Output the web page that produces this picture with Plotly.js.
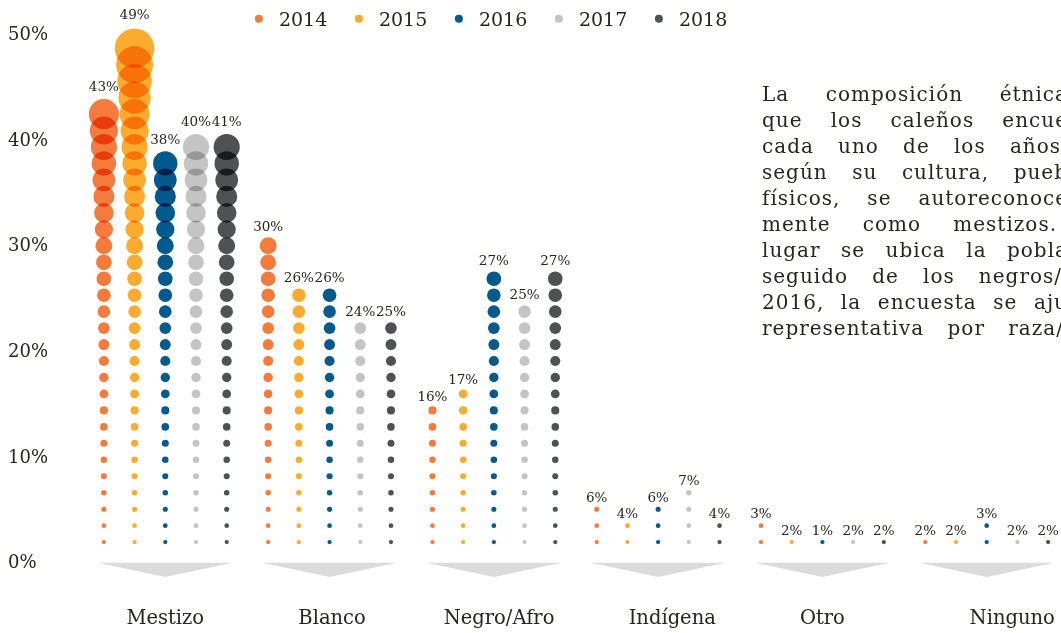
<!DOCTYPE html>
<html><head><meta charset="utf-8">
<script src="https://cdn.plot.ly/plotly-3.0.1.min.js"></script>
<style>
html,body{margin:0;padding:0;background:#fff;}
#chart{width:1061px;height:633px;}
.js-plotly-plot .scatterlayer path.point{mix-blend-mode:multiply;}
.js-plotly-plot .annotation-text{letter-spacing:1px;}
</style></head><body><div id="chart"></div>
<script>
// ---- data ----
const categories = ['Mestizo','Blanco','Negro/Afro','Indígena','Otro','Ninguno'];
const years = ['2014','2015','2016','2017','2018'];
// percentage shown above each column (by category)
const pct2014 = [43,30,16,6,3,2];
const pct2015 = [49,26,17,4,2,2];
const pct2016 = [38,26,27,6,1,3];
const pct2017 = [40,24,25,7,2,2];
const pct2018 = [41,25,27,4,2,2];
// number of dots stacked in each column (by category)
const dots2014 = [27,19,9,3,2,1];
const dots2015 = [31,16,10,2,1,1];
const dots2016 = [24,16,17,3,1,2];
const dots2017 = [25,14,15,4,1,1];
const dots2018 = [25,14,17,2,1,1];
const yTickVals = [0,10,20,30,40,50];
const yTickText = ['0%','10%','20%','30%','40%','50%'];
const paragraphLines = [
  'La composición étnica',
  'que los caleños encue',
  'cada uno de los años',
  'según su cultura, pueb',
  'físicos, se autoreconoce',
  'mente como mestizos.',
  'lugar se ubica la pobla',
  'seguido de los negros/',
  '2016, la encuesta se aju',
  'representativa por raza/'
];

// ---- styling ----
const colors = ['#f47b3b','#fbab2d','#005a8e','#c4c4c4','#4f5254'];
const pctByYear = [pct2014,pct2015,pct2016,pct2017,pct2018];
const dotsByYear = [dots2014,dots2015,dots2016,dots2017,dots2018];
const GROUP = 5.35;      // group spacing in column units
const DOT_BASE = 1.86;   // value of the first dot (%)
const DOT_STEP = 1.56;   // value step between dots (%)
const txtColor = '#26261c';
const FONT = 'DejaVu Serif';
const PARA_LEFT = 760;
const lineRight = [1066,1066,1059,1066,1066,1055,1066,1060,1066,1062];
const labelShift = [0,0.08,0.17,0.46,0,0.83];  // category label nudges (column units)

function dotSize(v){ return 3.8 + 0.26*v + 0.0002*v*v*v; }
function groupCenter(g){ return g*GROUP; }

const traces = [];
years.forEach((yr, j) => {
  const xs=[], ys=[], sz=[], tx=[];
  categories.forEach((c, g) => {
    const n = dotsByYear[j][g];
    for(let k=0;k<n;k++){
      const v = DOT_BASE + DOT_STEP*k;
      xs.push(groupCenter(g) + (j-2));
      ys.push(v);
      sz.push(dotSize(v));
      tx.push(k===n-1 ? pctByYear[j][g] + '%' : '');
    }
  });
  traces.push({
    type:'scatter', mode:'markers+text', x:xs, y:ys, text:tx,
    textposition:'top center', cliponaxis:false,
    textfont:{family:FONT, size:13.5, color:txtColor},
    marker:{color:colors[j], size:sz, line:{width:0}, opacity:1},
    name:yr, showlegend:false, hoverinfo:'skip'
  });
});
// legend entries
years.forEach((yr,j)=>{
  traces.push({type:'scatter', mode:'markers', x:[null], y:[null], name:yr,
    marker:{color:colors[j], size:8}, showlegend:true, hoverinfo:'skip'});
});

const shapes = categories.map((c,g)=>{
  const cx = groupCenter(g);
  return {type:'path', xref:'x', yref:'y',
    path:`M ${cx-2.2} -0.1 L ${cx+2.2} -0.1 L ${cx} -1.45 Z`,
    fillcolor:'#dadbda', line:{width:0}, layer:'below'};
});

const layout = {
  width:1061, height:633,
  margin:{l:5, r:0, t:10, b:30},
  paper_bgcolor:'#ffffff', plot_bgcolor:'#ffffff',
  font:{family:FONT, color:txtColor},
  showlegend:true,
  legend:{orientation:'h', x:0.2215, y:1.019, xanchor:'left', yanchor:'top',
    entrywidth:55, entrywidthmode:'pixels', itemwidth:30,
    font:{family:FONT, size:19, color:txtColor}, bgcolor:'rgba(0,0,0,0)', traceorder:'normal'},
  xaxis:{range:[-5.22,29.17], showgrid:false, zeroline:false, showline:false,
    tickvals:categories.map((c,g)=>groupCenter(g)+labelShift[g]), ticktext:categories, ticks:'',
    tickfont:{family:FONT, size:19.5, color:txtColor}, fixedrange:true},
  yaxis:{range:[-3.91,52.19], tickvals:yTickVals, ticktext:yTickText, showgrid:false,
    zeroline:false, showline:false, ticks:'', ticklabelposition:'inside',
    tickfont:{family:FONT, size:18, color:txtColor}, fixedrange:true},
  shapes:shapes,
  annotations:[{xref:'paper', yref:'paper', x:(PARA_LEFT-5)/1056, y:0.884, xanchor:'left', yanchor:'top',
    align:'left', showarrow:false, text:paragraphLines.join('<br>'),
    font:{family:FONT, size:20, color:txtColor}}]
};

const gd = document.getElementById('chart');
Plotly.newPlot(gd, traces, layout, {displayModeBar:false, staticPlot:true}).then(()=>{
  // justify paragraph lines like the original text block
  const lines = gd.querySelectorAll('.annotation-text tspan.line');
  lines.forEach((t,i)=>{
    const len = t.getComputedTextLength();
    const spaces = (t.textContent.match(/ /g)||[]).length;
    const target = lineRight[i] - PARA_LEFT;
    if(spaces>0 && len<target) t.style.wordSpacing = ((target-len)/spaces)+'px';
  });
});
</script></body></html>
